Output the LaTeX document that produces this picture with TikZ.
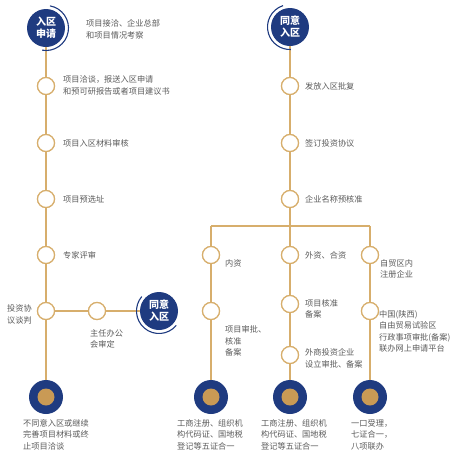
\documentclass[tikz,border=0pt]{standalone}
\usepackage{fontspec}
\setmainfont{Noto Sans CJK SC}
\definecolor{navy}{HTML}{1F3B80}
\definecolor{goldline}{HTML}{D7AE6C}
\definecolor{goldfill}{HTML}{C99A55}
\definecolor{txt}{HTML}{5A5A5A}
\begin{document}
\begin{tikzpicture}[x=1pt,y=1pt,
  ln/.style={goldline,line width=1.3pt},
  dot/.style={circle,draw=goldline,fill=white,line width=1.2pt,minimum size=17pt,inner sep=0pt},
  bigc/.style={circle,fill=navy,minimum size=38pt,inner sep=0pt,text=white,font=\fontsize{10}{12}\selectfont\bfseries,align=center},
  endc/.style={circle,fill=navy,minimum size=34pt,inner sep=0pt},
  endin/.style={circle,fill=goldfill,minimum size=17pt,inner sep=0pt},
  lbl/.style={text=txt,font=\fontsize{8.2}{11.5}\selectfont,align=left,inner sep=0pt,anchor=west},
  arcl/.style={navy,line width=1.1pt}]
\useasboundingbox (0,0) rectangle (456,-456);
% left column
\node[bigc] (a0) at (46,-28) {入区\\申请};
\node[dot] (a1) at (46,-86) {};
\node[dot] (a2) at (46,-143) {};
\node[dot] (a3) at (46,-199) {};
\node[dot] (a4) at (46,-255) {};
\node[dot] (a5) at (46,-311) {};
\node[endc] (ae) at (46,-397) {};
\node[dot] (b1) at (97,-311) {};
\node[bigc] (b2) at (159,-311) {同意\\入区};
% right column
\node[bigc] (r0) at (290,-27) {同意\\入区};
\node[dot] (r1) at (290,-86) {};
\node[dot] (r2) at (290,-143) {};
\node[dot] (r3) at (290,-199) {};
\coordinate (jl) at (211,-226);
\coordinate (jm) at (290,-226);
\coordinate (jr) at (370,-226);
\node[dot] (p1) at (211,-255) {};
\node[dot] (p2) at (211,-311) {};
\node[endc] (pe) at (211,-397) {};
\node[dot] (q1) at (290,-255) {};
\node[dot] (q2) at (290,-304) {};
\node[dot] (q3) at (290,-355) {};
\node[endc] (qe) at (290,-397) {};
\node[dot] (s1) at (370,-255) {};
\node[dot] (s2) at (370,-311) {};
\node[endc] (se) at (370,-397) {};
% connectors
\draw[ln] (a0) -- (a1) -- (a2) -- (a3) -- (a4) -- (a5) -- (ae);
\draw[ln] (a5) -- (b1) -- (b2);
\draw[ln] (r0) -- (r1) -- (r2) -- (r3) -- (jm);
\draw[ln] (jl) -- (jr);
\draw[ln] (jl) -- (p1) -- (p2) -- (pe);
\draw[ln] (jm) -- (q1) -- (q2) -- (q3) -- (qe);
\draw[ln] (jr) -- (s1) -- (s2) -- (se);
% redraw nodes on top
\foreach \n in {a1,a2,a3,a4,a5,b1,r1,r2,r3,p1,p2,q1,q2,q3,s1,s2}{\node[dot] at (\n) {};}
\foreach \n in {ae,pe,qe,se}{\node[endin] at (\n) {};}
% arcs
\draw[arcl] ([shift={(80:22.5)}]a0.center) arc[start angle=80,end angle=-100,radius=22.5];
\draw[arcl] ([shift={(108:22.5)}]r0.center) arc[start angle=108,end angle=272,radius=22.5];
\draw[arcl] ([shift={(140:22.5)}]b2.center) arc[start angle=140,end angle=320,radius=22.5];
% labels
\node[lbl] (t0) at (86,-29.5) {项目接洽、企业总部\\和项目情况考察};
\node[lbl] (t1) at (63,-85.5) {项目洽谈，报送入区申请\\和预可研报告或者项目建议书};
\node[lbl] (t2) at (63,-143) {项目入区材料审核};
\node[lbl] (t3) at (63,-199) {项目预选址};
\node[lbl] (t4) at (63,-255) {专家评审};
\node[lbl] (t5) at (7,-314.5) {投资协\\议谈判};
\node[lbl] (t6) at (90,-339) {主任办公\\会审定};
\node[lbl] (u1) at (305,-86) {发放入区批复};
\node[lbl] (u2) at (305,-143) {签订投资协议};
\node[lbl] (u3) at (305,-199) {企业名称预核准};
\node[lbl] (v1) at (225,-263) {内资};
\node[lbl] (v2) at (225,-341) {项目审批、\\核准\\备案};
\node[lbl] (w1) at (305,-255) {外资、合资};
\node[lbl] (w2) at (305,-309) {项目核准\\备案};
\node[lbl] (w3) at (305,-358.5) {外商投资企业\\设立审批、备案};
\node[lbl] (x1) at (380,-269) {自贸区内\\注册企业};
\node[lbl] (x2) at (379,-331.5) {中国(陕西)\\自由贸易试验区\\行政事项审批(备案)\\联办网上申请平台};
\node[lbl] (e1) at (23,-434.5) {不同意入区或继续\\完善项目材料或终\\止项目洽谈};
\node[lbl] (e2) at (177,-434.5) {工商注册、组织机\\构代码证、国地税\\登记等五证合一};
\node[lbl] (e3) at (261,-434.5) {工商注册、组织机\\构代码证、国地税\\登记等五证合一};
\node[lbl] (e4) at (351,-434.5) {一口受理，\\七证合一，\\八项联办};
\end{tikzpicture}
\end{document}
